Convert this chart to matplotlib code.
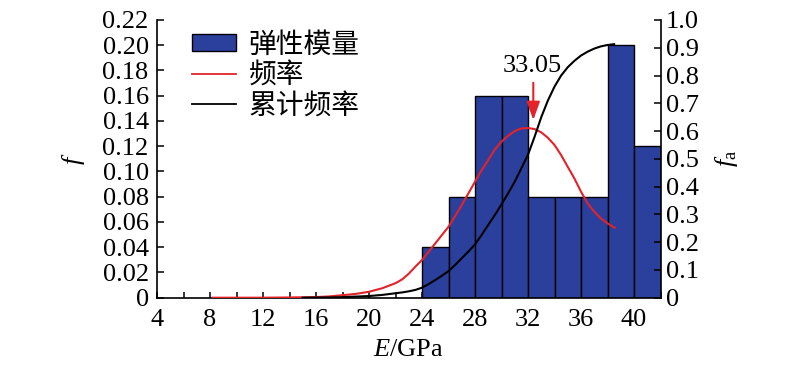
import matplotlib
matplotlib.use("Agg")
import matplotlib.pyplot as plt
from matplotlib.patches import Patch
from matplotlib.lines import Line2D
from matplotlib.ticker import MultipleLocator, FixedLocator, FixedFormatter

plt.rcParams['font.family'] = ['Liberation Serif', 'Noto Sans CJK SC']
plt.rcParams['mathtext.fontset'] = 'custom'
plt.rcParams['mathtext.rm'] = 'Liberation Serif'
plt.rcParams['mathtext.it'] = 'Liberation Serif:italic'

# ---- data ----
bin_left = [24, 26, 28, 30, 32, 34, 36, 38, 40]
bin_width = 2
freq_bars = [0.04, 0.08, 0.16, 0.16, 0.08, 0.08, 0.08, 0.20, 0.12]

# frequency curve (left axis)
red_x = [8.2, 10, 12, 14, 16, 17, 18, 19, 20, 21, 22, 22.5, 23, 23.5, 24, 24.5, 25, 25.5,
         26, 26.5, 27, 27.5, 28, 28.5, 29, 29.5, 30, 30.5, 31, 31.5, 32, 32.5, 33, 33.5,
         34, 34.5, 35, 35.5, 36, 36.5, 37, 37.5, 38, 38.55]
red_y = [0.0, 0.0, 0.0, 0.0002, 0.0005, 0.001, 0.002, 0.003, 0.0047, 0.0075, 0.0115, 0.0145,
         0.019, 0.0246, 0.0298, 0.0364, 0.043, 0.0496, 0.0562, 0.0647, 0.0734, 0.0826,
         0.0919, 0.101, 0.109, 0.1175, 0.1236, 0.1283, 0.132, 0.1341, 0.1344, 0.1336,
         0.131, 0.1267, 0.121, 0.113, 0.1037, 0.0945, 0.084, 0.0747, 0.0681, 0.0628,
         0.0589, 0.0554]

# cumulative frequency curve (right axis)
cum_x = [15, 16, 17, 18, 19, 20, 21, 22, 22.5, 23, 23.5, 24, 24.5, 25, 25.5, 26, 26.5, 27,
         27.5, 28, 28.5, 29, 29.5, 30, 30.5, 31, 31.5, 32, 32.5, 33, 33.5, 34, 34.5, 35,
         35.5, 36, 36.5, 37, 37.5, 38, 38.5]
cum_y = [0.0, 0.0005, 0.001, 0.002, 0.004, 0.006, 0.01, 0.016, 0.019, 0.023, 0.028, 0.036,
         0.049, 0.0636, 0.079, 0.096, 0.118, 0.142, 0.166, 0.192, 0.226, 0.262, 0.298,
         0.336, 0.376, 0.418, 0.466, 0.515, 0.58, 0.65, 0.71, 0.76, 0.80, 0.83, 0.853,
         0.872, 0.886, 0.897, 0.905, 0.91, 0.913]

x_ticks = [4, 8, 12, 16, 20, 24, 28, 32, 36, 40]
y_left_ticks = [0, 0.02, 0.04, 0.06, 0.08, 0.10, 0.12, 0.14, 0.16, 0.18, 0.20, 0.22]
y_left_labels = ['0', '0.02', '0.04', '0.06', '0.08', '0.10', '0.12', '0.14', '0.16', '0.18', '0.20', '0.22']
y_right_ticks = [0, 0.1, 0.2, 0.3, 0.4, 0.5, 0.6, 0.7, 0.8, 0.9, 1.0]
y_right_labels = ['0', '0.1', '0.2', '0.3', '0.4', '0.5', '0.6', '0.7', '0.8', '0.9', '1.0']

peak_label = '33.05'
peak_x = 32.4
legend_labels = ['弹性模量', '频率', '累计频率']

BLUE = '#2b409d'
RED = '#e3222a'
FS = 19

fig = plt.figure(figsize=(8, 3.71), dpi=100)
ax = fig.add_axes([157/800, 1 - 297.7/371, (660.5-157)/800, (297.7-20)/371])
ax2 = ax.twinx()

ax.bar(bin_left, freq_bars, width=bin_width, align='edge', color=BLUE,
       edgecolor='black', linewidth=1.0, zorder=2)
ax.plot(red_x, red_y, color=RED, lw=1.5, zorder=3)
ax2.plot(cum_x, cum_y, color='black', lw=1.5, zorder=3)

ax.set_xlim(4, 42)
ax.set_ylim(0, 0.22)
ax2.set_ylim(0, 1.0)

ax.xaxis.set_major_locator(FixedLocator(x_ticks))
ax.xaxis.set_minor_locator(MultipleLocator(2))
ax.yaxis.set_major_locator(FixedLocator(y_left_ticks))
ax.yaxis.set_major_formatter(FixedFormatter(y_left_labels))
ax2.yaxis.set_major_locator(FixedLocator(y_right_ticks))
ax2.yaxis.set_major_formatter(FixedFormatter(y_right_labels))

for a in (ax, ax2):
    a.spines['top'].set_visible(False)
    for s in a.spines.values():
        s.set_linewidth(1.2)
ax.spines['right'].set_visible(False)
ax2.spines['left'].set_visible(False)
ax2.spines['bottom'].set_visible(False)

ax.tick_params(axis='x', which='both', direction='in', length=4.5, width=1.1,
               labelsize=FS, pad=8)
ax.tick_params(axis='y', direction='in', length=5, width=1.1, labelsize=FS, pad=6)
ax2.tick_params(axis='y', direction='in', length=5, width=1.1, labelsize=FS, pad=4)

ax.set_xlabel('$E$/GPa', fontsize=FS, labelpad=6)
ax.set_ylabel('$f$', fontsize=FS, labelpad=11)
ax2.set_ylabel(r'$f_\mathrm{a}$', fontsize=FS, labelpad=10, rotation=90)

# annotation
ax.text(32.35, 0.1835, peak_label, fontsize=FS, ha='center', va='center', zorder=5)
ax.annotate('', xy=(peak_x, 0.1408), xytext=(peak_x, 0.1703),
            arrowprops=dict(arrowstyle='-|>,head_length=0.55,head_width=0.2',
                            mutation_scale=20, color=RED, lw=1.5,
                            shrinkA=0, shrinkB=0), zorder=5)

handles = [Patch(facecolor=BLUE, edgecolor='black', linewidth=1.0),
           Line2D([], [], color=RED, lw=1.3),
           Line2D([], [], color='black', lw=1.3)]
leg = ax2.legend(handles, legend_labels, loc='upper left',
                 bbox_to_anchor=(191.7/800, 1 - 33/371), bbox_transform=fig.transFigure,
                 frameon=False, fontsize=20, borderpad=0, borderaxespad=0,
                 handlelength=1.6, handleheight=0.58, handletextpad=0.45,
                 labelspacing=0.16)

fig.savefig('out.png', dpi=100)
